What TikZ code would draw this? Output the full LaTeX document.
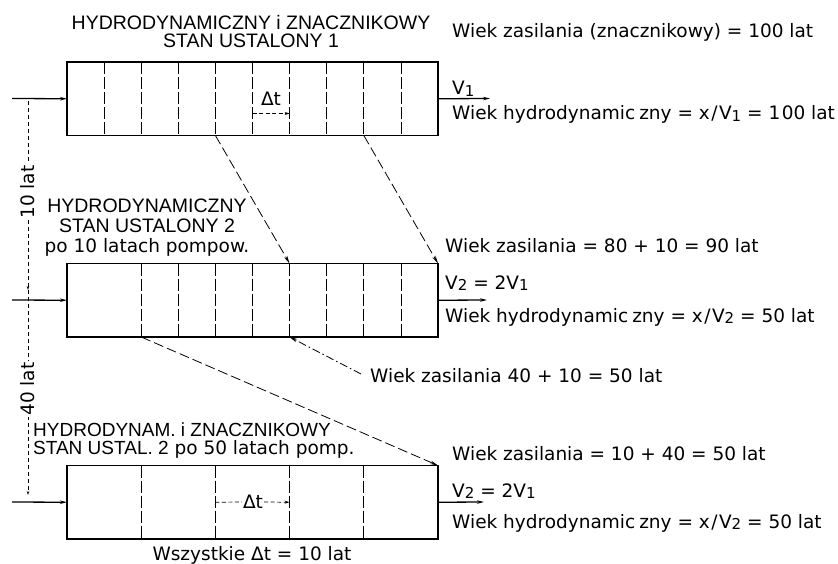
\documentclass[tikz,border=0pt]{standalone}
\usepackage{fontspec}
\setmainfont{DejaVu Sans}
\newfontfamily\hdfont{Liberation Sans}
\usetikzlibrary{arrows.meta,calc}
\newcommand{\sbs}[1]{\raisebox{-1.5pt}{\fontsize{15}{15}\selectfont #1}}
\newcommand{\slsh}{\kern1.5pt/\kern1.5pt}
\begin{document}
\begin{tikzpicture}[x=1pt,y=-1pt,
  box/.style={draw, line width=1.5pt, minimum width=371pt, minimum height=73.5pt, anchor=north west, inner sep=0pt, outer sep=0pt},
  divline/.style={line width=0.7pt, dash pattern=on 12pt off 3pt},
  flow/.style={line width=1.3pt, -{Stealth[length=7pt,width=3.5pt]}},
  diag/.style={line width=0.8pt, dash pattern=on 10pt off 4pt, -{Stealth[length=8pt,width=3.5pt]}},
  dashdot/.style={line width=0.8pt, dash pattern=on 8pt off 3pt on 1.5pt off 3pt, -{Stealth[length=8pt,width=3.5pt]}},
  dimarrow/.style={line width=0.7pt, dash pattern=on 4pt off 3pt, -{Stealth[length=4pt,width=2.5pt]}},
  dtline/.style={line width=0.7pt, dash pattern=on 4pt off 2.5pt},
  dtarrow/.style={line width=0.7pt, dash pattern=on 4pt off 2.5pt, -{Stealth[length=5pt,width=3pt]}},
  txt/.style={inner sep=0pt, anchor=base west, font=\fontsize{18.5}{20}\selectfont},
  txtc/.style={inner sep=0pt, anchor=base, font=\fontsize{18.5}{20}\selectfont},
  hd/.style={inner sep=0pt, anchor=base, font=\hdfont\fontsize{19.5}{21}\selectfont},
  hdl/.style={inner sep=0pt, anchor=base west, font=\hdfont\fontsize{19}{20}\selectfont},
  dimlab/.style={inner sep=1pt, fill=white, rotate=90, font=\fontsize{18.5}{20}\selectfont}
]
\useasboundingbox (0,0) rectangle (838,564);

% boxes
\node[box] (b1) at (67,62) {};
\node[box] (b2) at (67,263.5) {};
\node[box] (b3) at (67,465.5) {};

% dividers
\foreach \k in {1,...,9}
  \draw[divline] ($(b1.north west)!\k/10!(b1.north east)$) -- ($(b1.south west)!\k/10!(b1.south east)$);
\foreach \k in {2,...,9}
  \draw[divline] ($(b2.north west)!\k/10!(b2.north east)$) -- ($(b2.south west)!\k/10!(b2.south east)$);
\foreach \k in {2,4,6,8}
  \draw[divline] ($(b3.north west)!\k/10!(b3.north east)$) -- ($(b3.south west)!\k/10!(b3.south east)$);

% input / output arrows
\coordinate (in1) at (12,98.5);
\coordinate (in2) at (12,300);
\coordinate (in3) at (12,502);
\coordinate (out1) at (490,98.5);
\coordinate (out2) at (487,300);
\coordinate (out3) at (484,502);
\draw[flow] (in1) -- (b1.west);
\draw[flow] (in2) -- (b2.west);
\draw[flow] (in3) -- (b3.west);
\draw[flow] (b1.east) -- (out1);
\draw[flow] (b2.east) -- (out2);
\draw[flow] (b3.east) -- (out3);

% vertical time line
\coordinate (t0) at (28,101);
\coordinate (t1) at (28,290);
\coordinate (t2) at (28,495);
\draw[dimarrow] (t0) -- (t1);
\draw[dimarrow] (t1) -- (t2);
\node[dimlab] (l10) at (28,192) {10 lat};
\node[dimlab] (l40) at (28,389) {40 lat};

% diagonal connectors
\draw[diag] ($(b1.south west)!0.4!(b1.south east)$) -- ($(b2.north west)!0.6!(b2.north east)$);
\draw[diag] ($(b1.south west)!0.8!(b1.south east)$) -- (b2.north east);
\draw[diag] ($(b2.south west)!0.2!(b2.south east)$) -- (b3.north east);

% delta t in box 1
\node[inner sep=0pt, font=\fontsize{18.5}{20}\selectfont] (dt1) at (271,99) {Δt};
\coordinate (dt1a) at ($(b1.south west)!0.5!(b1.south east)+(0,-22)$);
\coordinate (dt1b) at ($(b1.south west)!0.6!(b1.south east)+(0,-22)$);
\draw[dtarrow] (dt1a) -- (dt1b);

% delta t in box 3
\node[inner sep=1pt, font=\fontsize{18.5}{20}\selectfont] (dt3) at (253,502) {Δt};
\draw[dtline] ($(b3.west)!0.4!(b3.east)$) -- (dt3.west);
\draw[dtarrow] (dt3.east) -- ($(b3.west)!0.6!(b3.east)$);

% headings
\node[hd] (h1a) at (251,29.5) {HYDRODYNAMICZNY i ZNACZNIKOWY};
\node[hd] (h1b) at (251,48) {STAN USTALONY 1};
\node[hd] (h2a) at (147,212.5) {HYDRODYNAMICZNY};
\node[hd] (h2b) at (147,233) {STAN USTALONY 2};
\node[txtc] (h2c) at (147,253) {po 10 latach pompow.};
\node[hdl] (h3a) at (33,436.5) {HYDRODYNAM. i ZNACZNIKOWY};
\node[hdl] (h3b) at (33,454.5) {STAN USTAL. 2{\rmfamily\fontsize{18.5}{20}\selectfont{} po 50 latach pomp.}};

% right texts
\node[txt] (r1a) at (452,38) {Wiek zasilania (znacznikowy) = 100 lat};
\node[txt] (r1b) at (452,95) {V\sbs{1}};
\node[txt] (r1c) at (452,120) {Wiek hydrodynamic\kern4pt zny = x\slsh V\sbs{1} = 1\kern1.5pt00 lat};
\node[txt] (r2a) at (445,253) {Wiek zasilania = 80 + 10 = 90 lat};
\node[txt] (r2b) at (445,289) {V\sbs{2} = 2V\sbs{1}};
\node[txt] (r2c) at (445,322) {Wiek hydrodynamic\kern4pt zny = x\slsh V\sbs{2} = 50 lat};
\node[txt] (r3a) at (452,460) {Wiek zasilania = 10 + 40 = 50 lat};
\node[txt] (r3b) at (452,497) {V\sbs{2} = 2V\sbs{1}};
\node[txt] (r3c) at (452,528) {Wiek hydrodynamic\kern4pt zny = x\slsh V\sbs{2} = 50 lat};

% middle label with dash-dot pointer
\node[txt] (lab) at (370,382) {Wiek zasilania 40 + 10 = 50 lat};
\coordinate (ddstart) at (361,374);
\draw[dashdot] (ddstart) -- ($(b2.south west)!0.6!(b2.south east)$);

% bottom note
\node[txtc] (note) at (252,560) {Wszystkie Δt = 10 lat};
\end{tikzpicture}
\end{document}
